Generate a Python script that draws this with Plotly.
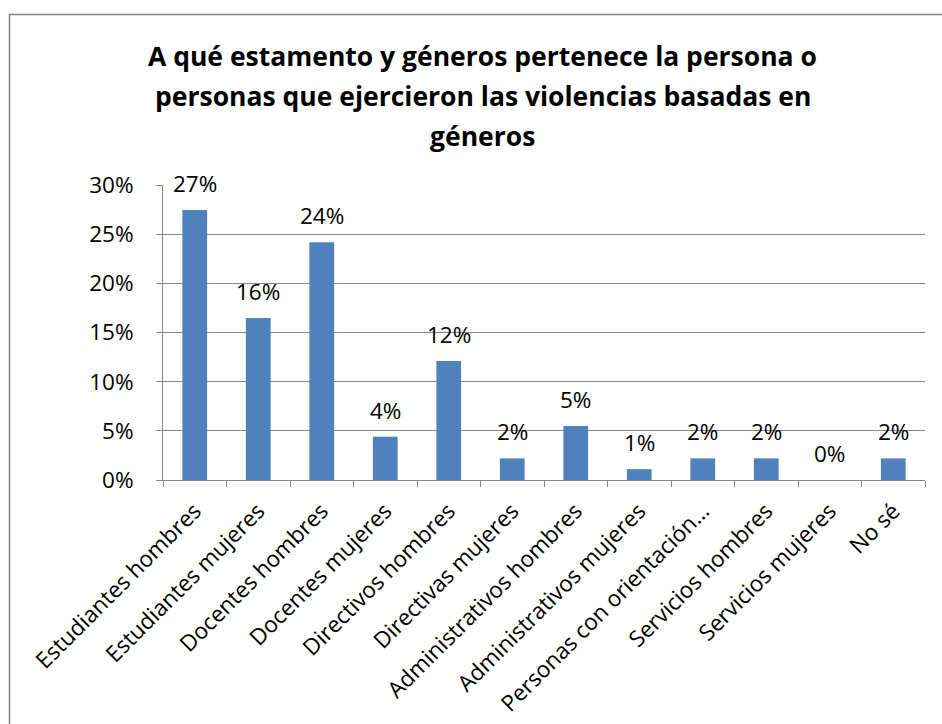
import plotly.graph_objects as go

categorias = ["Estudiantes hombres", "Estudiantes mujeres", "Docentes hombres", "Docentes mujeres",
              "Directivos hombres", "Directivas mujeres", "Administrativos hombres", "Administrativos mujeres",
              "Personas con orientación…", "Servicios hombres", "Servicios mujeres", "No sé"]
valores = [0.2747, 0.1648, 0.2418, 0.0440, 0.1209, 0.0220, 0.0549, 0.0110, 0.0220, 0.0220, 0.0, 0.0220]
titulo_lineas = ["A qué estamento y géneros pertenece la persona o",
                 "personas que ejercieron las violencias basadas en",
                 "géneros"]

FONT = "Open Sans"
FS = 22.5
W, H = 942, 724
L, R, T, B = 163, 17, 185, 244
pw, ph = W - L - R, H - T - B

fig = go.Figure(go.Bar(
    x=categorias, y=valores,
    marker=dict(color="#4F81BD", line=dict(width=0)),
    hovertemplate="%{x}: %{y:.1%}<extra></extra>",
))

for c, v in zip(categorias, valores):
    fig.add_annotation(x=c, y=v, text=f"{v:.0%}", xref="x", yref="y", showarrow=False,
                       xanchor="center", yanchor="bottom", yshift=9,
                       font=dict(family=FONT, size=FS, color="black"))

fig.update_layout(
    width=W, height=H,
    margin=dict(l=L, r=R, t=T, b=B, autoexpand=False),
    paper_bgcolor="white", plot_bgcolor="white",
    bargap=0.61,
    showlegend=False,
    font=dict(family=FONT, size=FS, color="black"),
)
for i, line in enumerate(titulo_lineas):
    cy = 56 + 40 * i
    fig.add_annotation(text="<b>" + line + "</b>", xref="paper", yref="paper",
                       x=(482.5 - L) / pw, y=(T + ph - cy) / ph, xanchor="center", yanchor="middle",
                       showarrow=False, font=dict(family=FONT, size=26.5, color="black"))

fig.update_yaxes(range=[0, 0.30], dtick=0.05, tickformat=".0%", showgrid=True, gridcolor="#868686",
                 gridwidth=1, showline=True, linecolor="#868686", ticks="outside", ticklen=6,
                 tickcolor="#868686", zeroline=False, ticklabelstandoff=18, automargin=False,
                 tickfont=dict(family=FONT, size=FS, color="black"))
fig.update_xaxes(tickangle=-45, showline=True, linecolor="#868686", ticks="outside", ticklen=6,
                 tickcolor="#868686", tickson="boundaries", ticklabelstandoff=8, automargin=False,
                 tickfont=dict(family=FONT, size=FS, color="black"))

fig.add_shape(type="rect", xref="paper", yref="paper",
              x0=(9.5 - L) / pw, x1=(W + 20 - L) / pw,
              y0=(T + ph - (H + 20)) / ph, y1=(T + ph - 14.5) / ph,
              line=dict(color="#868686", width=1.5), fillcolor="rgba(0,0,0,0)", layer="below")

fig.write_html("out.html")
